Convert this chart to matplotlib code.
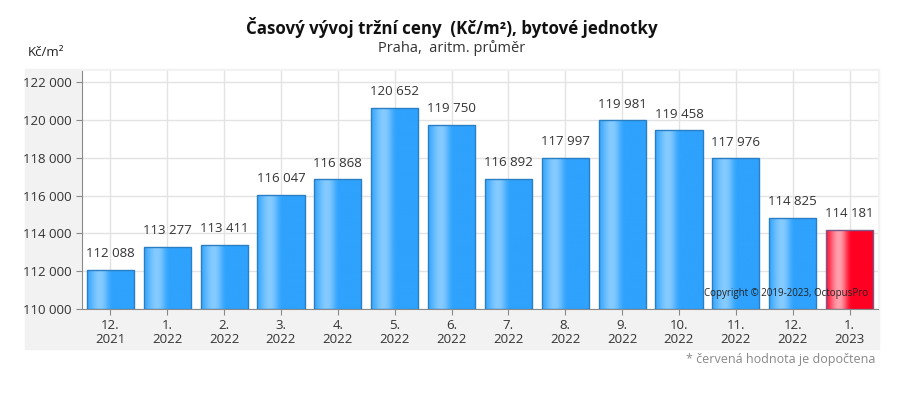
import matplotlib
matplotlib.use("Agg")
import matplotlib.pyplot as plt
import numpy as np
from matplotlib.colors import to_rgb
from matplotlib.patches import Rectangle

plt.rcParams['font.family'] = ['Open Sans', 'DejaVu Sans']

# data
months = ['12.', '1.', '2.', '3.', '4.', '5.', '6.', '7.', '8.', '9.', '10.', '11.', '12.', '1.']
years = ['2021', '2022', '2022', '2022', '2022', '2022', '2022', '2022', '2022', '2022', '2022', '2022', '2022', '2023']
prices = [112088, 113277, 113411, 116047, 116868, 120652, 119750, 116892, 117997, 119981, 119458, 117976, 114825, 114181]
estimated = [False] * 13 + [True]

tick_labels = [m + '\n' + y for m, y in zip(months, years)]
y_ticks = [110000, 112000, 114000, 116000, 118000, 120000, 122000]


def fmt(v):
    return '{:,}'.format(v).replace(',', ' ')


def gradient(base, light, n=200):
    # horizontal shine: base -> light at ~27% -> base at ~55%
    base = np.array(to_rgb(base))
    light = np.array(to_rgb(light))
    xs = np.linspace(0, 1, n)
    w = np.interp(xs, [0, 0.27, 0.55, 1], [0.2, 1, 0, 0])
    w = 0.5 - 0.5 * np.cos(np.pi * w)
    img = base[None, :] * (1 - w[:, None]) + light[None, :] * w[:, None]
    return img[None, :, :]


fig = plt.figure(figsize=(9.04, 4.08), dpi=100)

# gray panel behind the plot
fig.patches.append(Rectangle((25 / 904, 1 - 349 / 408), 854 / 904, 280 / 408,
                             transform=fig.transFigure, color='#f2f2f2', zorder=-1))

ax = fig.add_axes([82 / 904, 1 - 309 / 408, 796 / 904, 238 / 408])
ax.set_zorder(1)
ax.set_facecolor('white')

x = np.arange(len(prices))
bottom = 110000
bars = ax.bar(x, [p - bottom for p in prices], bottom=bottom, width=0.83,
              color='none', zorder=3)

for b, p, est in zip(bars, prices, estimated):
    if est:
        img = gradient('#ff0022', '#ffa0ad')
        edge = '#7a5a8a'
    else:
        img = gradient('#2ea2fd', '#86cbff')
        edge = '#2a7fc4'
    x0, w = b.get_x(), b.get_width()
    im = ax.imshow(img, extent=[x0, x0 + w, bottom, p], aspect='auto', zorder=3,
                   interpolation='bilinear')
    im.set_clip_path(b)
    b.set_edgecolor(edge)
    b.set_linewidth(1.0)
    b.set_zorder(4)
    ax.annotate(fmt(p), (b.get_x() + w / 2, p), xytext=(0, 7), textcoords='offset points',
                ha='center', va='bottom', fontsize=9.5, color='#333333', zorder=5)

ax.set_xlim(-0.5, len(prices) - 0.5)
ax.set_ylim(110000, 122600)
ax.set_xticks(x)
ax.set_xticklabels(tick_labels, fontsize=9.5, color='#333333', linespacing=1.1)
ax.set_yticks(y_ticks)
ax.set_yticklabels([fmt(v) for v in y_ticks], fontsize=9.5, color='#333333')

ax.grid(True, color='#e3e3e3', linewidth=1, zorder=0)
ax.set_axisbelow(True)
for s in ['top', 'right']:
    ax.spines[s].set_visible(False)
for s in ['left', 'bottom']:
    ax.spines[s].set_color('#8a8a8a')
ax.tick_params(axis='both', colors='#8a8a8a', length=4, labelcolor='#333333')

ax.text(0.988, 0.04, 'Copyright © 2019-2023, OctopusPro', transform=ax.transAxes,
        ha='right', va='bottom', fontsize=7, color='#222222', zorder=6)

fig.text(452 / 904, 1 - 27 / 408, 'Časový vývoj tržní ceny  (Kč/m²), bytové jednotky',
         ha='center', va='center', fontsize=12.2, fontweight='bold', color='#111111')
fig.text(452 / 904, 1 - 48 / 408, 'Praha,  aritm. průměr',
         ha='center', va='center', fontsize=10.5, color='#333333')
fig.text(28 / 904, 1 - 53 / 408, 'Kč/m²', ha='left', va='center', fontsize=9.5, color='#222222')
fig.text(875 / 904, 1 - 359 / 408, '* červená hodnota je dopočtena',
         ha='right', va='center', fontsize=9, color='#888888')

fig.savefig('out.png', dpi=100)
